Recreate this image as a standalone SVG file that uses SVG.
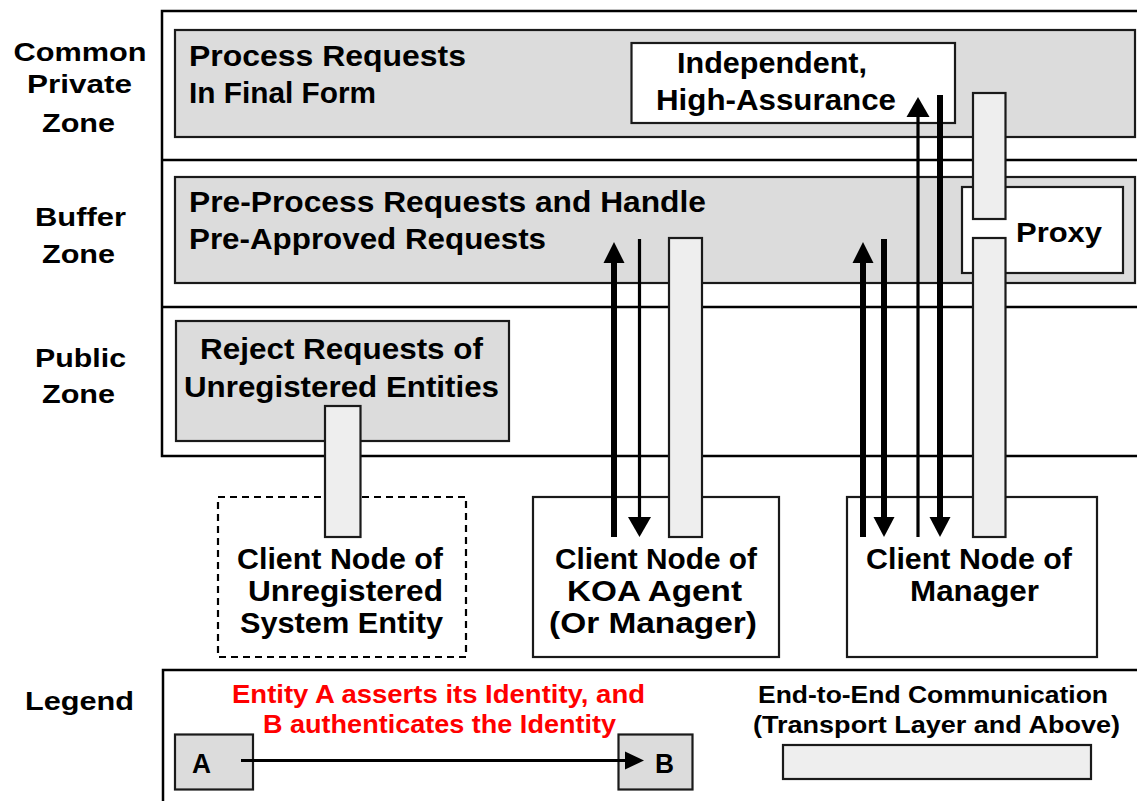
<svg xmlns="http://www.w3.org/2000/svg" width="1137" height="801" viewBox="0 0 1137 801">
  <style>
    .frame { fill: none; stroke: #000; stroke-width: 2.5; }
    .zone { fill: #dcdcdc; stroke: #1a1a1a; stroke-width: 2.2; }
    .box { fill: #fff; stroke: #1a1a1a; stroke-width: 2.2; }
    .dashed { fill: #fff; stroke: #000; stroke-width: 2.2; stroke-dasharray: 7 5; }
    .bar { fill: #eeeeee; stroke: #1a1a1a; stroke-width: 2.2; }
    .t { font-family: "Liberation Sans", Arial, sans-serif; font-weight: bold; fill: #000; }
    .red { fill: #ff0000; }
    .thick { stroke: #000; stroke-width: 6; fill: none; }
    .thin { stroke: #000; stroke-width: 3.2; fill: none; }
    .head { fill: #000; }
  </style>

  <!-- zone frame and dividers -->
  <g id="zone-frame">
    <rect class="frame" x="162" y="11" width="990" height="445"/>
    <line class="frame" x1="162" y1="160" x2="1150" y2="160"/>
    <line class="frame" x1="162" y1="307" x2="1150" y2="307"/>
  </g>

  <!-- zone labels -->
  <g id="zone-labels">
    <text class="t" font-size="26.5" x="13.5" y="61" textLength="133" lengthAdjust="spacingAndGlyphs">Common</text>
    <text class="t" font-size="26.5" x="27" y="93" textLength="105" lengthAdjust="spacingAndGlyphs">Private</text>
    <text class="t" font-size="26.5" x="42" y="132" textLength="73" lengthAdjust="spacingAndGlyphs">Zone</text>
    <text class="t" font-size="26.5" x="35" y="226" textLength="91" lengthAdjust="spacingAndGlyphs">Buffer</text>
    <text class="t" font-size="26.5" x="42" y="263" textLength="73" lengthAdjust="spacingAndGlyphs">Zone</text>
    <text class="t" font-size="26.5" x="35" y="367" textLength="91" lengthAdjust="spacingAndGlyphs">Public</text>
    <text class="t" font-size="26.5" x="42" y="403" textLength="73" lengthAdjust="spacingAndGlyphs">Zone</text>
  </g>

  <!-- common private zone -->
  <g id="process-final">
    <rect class="zone" x="175" y="30" width="960" height="107"/>
    <text class="t" font-size="29" x="189" y="66" textLength="277" lengthAdjust="spacingAndGlyphs">Process Requests</text>
    <text class="t" font-size="29" x="189" y="103" textLength="187" lengthAdjust="spacingAndGlyphs">In Final Form</text>
  </g>
  <g id="high-assurance">
    <rect class="box" x="631.5" y="43" width="323.5" height="80"/>
    <text class="t" font-size="29" x="677" y="73" textLength="190" lengthAdjust="spacingAndGlyphs">Independent,</text>
    <text class="t" font-size="29" x="656" y="110" textLength="240" lengthAdjust="spacingAndGlyphs">High-Assurance</text>
  </g>

  <!-- buffer zone -->
  <g id="pre-process">
    <rect class="zone" x="175" y="177" width="960" height="106"/>
    <text class="t" font-size="29" x="189" y="212" textLength="517" lengthAdjust="spacingAndGlyphs">Pre-Process Requests and Handle</text>
    <text class="t" font-size="29" x="189" y="249" textLength="357" lengthAdjust="spacingAndGlyphs">Pre-Approved Requests</text>
  </g>
  <g id="proxy">
    <rect class="box" x="962" y="187" width="161" height="86"/>
    <text class="t" font-size="28" x="1016" y="242" textLength="86" lengthAdjust="spacingAndGlyphs">Proxy</text>
  </g>

  <!-- public zone -->
  <g id="reject">
    <rect class="zone" x="176" y="321" width="333" height="120"/>
    <text class="t" font-size="29" x="200" y="359" textLength="283" lengthAdjust="spacingAndGlyphs">Reject Requests of</text>
    <text class="t" font-size="29" x="184" y="397" textLength="315" lengthAdjust="spacingAndGlyphs">Unregistered Entities</text>
  </g>

  <!-- client nodes -->
  <g id="client-unregistered">
    <rect class="dashed" x="218" y="497" width="248" height="160"/>
    <text class="t" font-size="29" x="237" y="569" textLength="206" lengthAdjust="spacingAndGlyphs">Client Node of</text>
    <text class="t" font-size="29" x="248" y="601" textLength="195" lengthAdjust="spacingAndGlyphs">Unregistered</text>
    <text class="t" font-size="29" x="240" y="633" textLength="203" lengthAdjust="spacingAndGlyphs">System Entity</text>
  </g>
  <g id="client-koa">
    <rect class="box" x="533" y="497" width="246" height="160"/>
    <text class="t" font-size="29" x="555" y="569" textLength="202" lengthAdjust="spacingAndGlyphs">Client Node of</text>
    <text class="t" font-size="29" x="567" y="601" textLength="175" lengthAdjust="spacingAndGlyphs">KOA Agent</text>
    <text class="t" font-size="29" x="549" y="633" textLength="208" lengthAdjust="spacingAndGlyphs">(Or Manager)</text>
  </g>
  <g id="client-manager">
    <rect class="box" x="847" y="497" width="250" height="160"/>
    <text class="t" font-size="29" x="866" y="569" textLength="206" lengthAdjust="spacingAndGlyphs">Client Node of</text>
    <text class="t" font-size="29" x="910" y="601" textLength="129" lengthAdjust="spacingAndGlyphs">Manager</text>
  </g>

  <!-- connectors: end-to-end bars and identity arrows -->
  <g id="connectors">
    <rect class="bar" x="325" y="406" width="35.5" height="131"/>
    <rect class="bar" x="669" y="238" width="33" height="299"/>
    <rect class="bar" x="973" y="93" width="32.5" height="126"/>
    <rect class="bar" x="973" y="238" width="32.5" height="299"/>

    <!-- KOA agent pair -->
    <line class="thick" x1="614" y1="537" x2="614" y2="260"/>
    <polygon class="head" points="603.5,263 624.5,263 614,242"/>
    <line class="thin" x1="639.5" y1="239" x2="639.5" y2="519"/>
    <polygon class="head" points="628,517 651,517 639.5,537"/>

    <!-- manager pair -->
    <line class="thick" x1="863" y1="537" x2="863" y2="260"/>
    <polygon class="head" points="852.5,263 873.5,263 863,242"/>
    <line class="thick" x1="884" y1="239" x2="884" y2="519"/>
    <polygon class="head" points="873.5,517 894.5,517 884,537"/>

    <!-- manager to high-assurance pair -->
    <line class="thin" x1="918" y1="537" x2="918" y2="114"/>
    <polygon class="head" points="906.5,117 929.5,117 918,97"/>
    <line class="thick" x1="940" y1="95" x2="940" y2="519"/>
    <polygon class="head" points="929.5,517 950.5,517 940,537"/>
  </g>

  <!-- legend -->
  <g id="legend">
    <rect class="frame" x="163" y="670" width="990" height="150"/>
    <text class="t" font-size="26" x="25" y="710" textLength="109" lengthAdjust="spacingAndGlyphs">Legend</text>
    <text class="t red" font-size="25" x="232" y="703" textLength="413" lengthAdjust="spacingAndGlyphs">Entity A asserts its Identity, and</text>
    <text class="t red" font-size="25" x="263" y="733" textLength="353" lengthAdjust="spacingAndGlyphs">B authenticates the Identity</text>
    <rect class="zone" x="175" y="734.5" width="78" height="55"/>
    <rect class="zone" x="618.5" y="734.5" width="74" height="55"/>
    <text class="t" font-size="27" x="192" y="773" textLength="19" lengthAdjust="spacingAndGlyphs">A</text>
    <text class="t" font-size="27" x="655" y="773" textLength="19" lengthAdjust="spacingAndGlyphs">B</text>
    <line x1="241" y1="760.5" x2="628" y2="760.5" stroke="#000" stroke-width="3"/>
    <polygon class="head" points="625,751.5 644,760.5 625,769.5"/>
    <text class="t" font-size="24" x="758" y="703" textLength="350" lengthAdjust="spacingAndGlyphs">End-to-End Communication</text>
    <text class="t" font-size="24" x="753" y="733" textLength="367" lengthAdjust="spacingAndGlyphs">(Transport Layer and Above)</text>
    <rect class="bar" x="783" y="745" width="308" height="34"/>
  </g>
</svg>
